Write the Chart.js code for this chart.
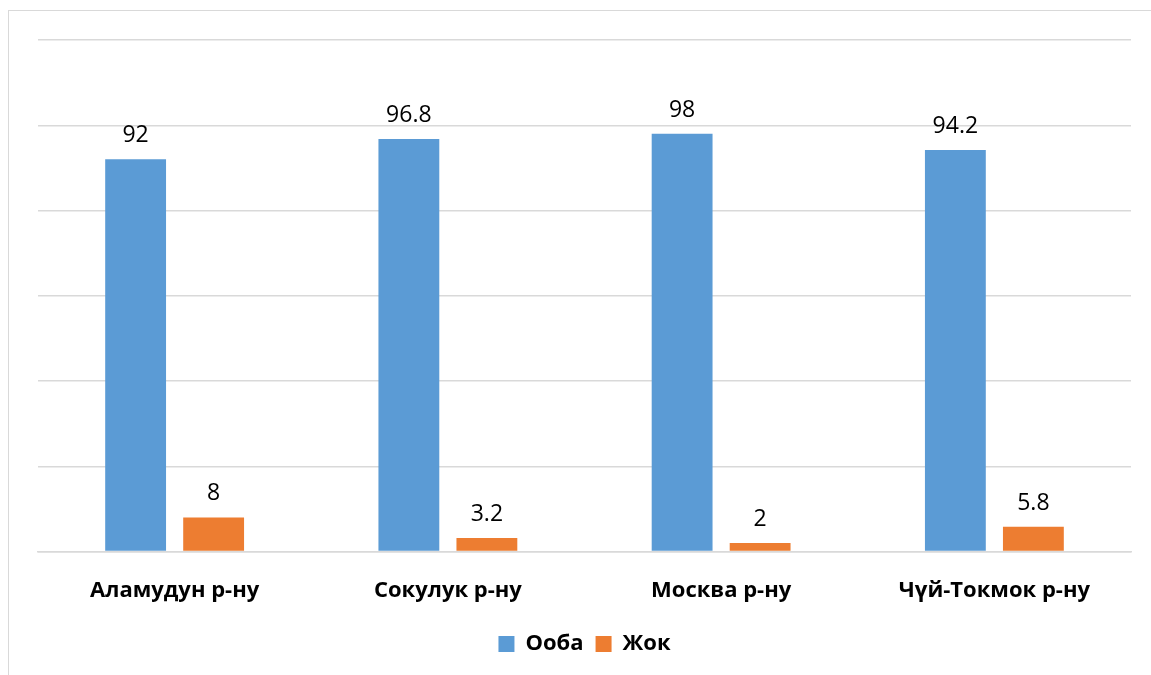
<!DOCTYPE html>
<html>
<head>
<meta charset="utf-8">
<script src="https://cdn.jsdelivr.net/npm/chart.js@4"></script>
<style>
  body { margin: 0; background: #fff; }
  #frame { position: absolute; left: 8px; top: 10px; width: 1160px; height: 700px; border: 1.5px solid #d9d9d9; }
  #wrap { position: absolute; left: 0; top: 0; width: 1151px; height: 675px; }
</style>
</head>
<body>
<div id="frame"></div>
<div id="wrap"><canvas id="myChart"></canvas></div>
<script>
const regions = ["Аламудун р-ну", "Сокулук р-ну", "Москва р-ну", "Чүй-Токмок р-ну"];
const yesValues = [92, 96.8, 98, 94.2];
const noValues = [8, 3.2, 2, 5.8];

// value labels above each bar
const barLabels = {
    id: "barLabels",
    afterDatasetsDraw(chart) {
        const ctx = chart.ctx;
        ctx.save();
        ctx.font = "23px 'Open Sans'";
        ctx.fillStyle = "#000";
        ctx.textAlign = "center";
        ctx.textBaseline = "alphabetic";
        chart.data.datasets.forEach((ds, i) => {
            chart.getDatasetMeta(i).data.forEach((bar, j) => {
                ctx.fillText(String(ds.data[j]), bar.x, bar.y - 17);
            });
        });
        ctx.restore();
    }
};

new Chart("myChart", {
    type: "bar",
    data: {
        labels: regions,
        datasets: [{
            label: "Ооба",
            data: yesValues,
            backgroundColor: "#5B9BD5",
            categoryPercentage: 0.571,
            barPercentage: 0.78
        }, {
            label: "Жок",
            data: noValues,
            backgroundColor: "#ED7D31",
            categoryPercentage: 0.571,
            barPercentage: 0.78
        }]
    },
    options: {
        responsive: true,
        maintainAspectRatio: false,
        animation: false,
        layout: { padding: { left: 38, right: 20, top: 40, bottom: 10 } },
        plugins: {
            legend: {
                position: "bottom",
                labels: {
                    font: { family: "'Open Sans'", size: 22, weight: "bold" },
                    color: "#000",
                    boxWidth: 16,
                    boxHeight: 16,
                    padding: 12
                }
            },
            tooltip: { enabled: false }
        },
        scales: {
            x: {
                grid: { display: false },
                border: { color: "#d9d9d9", width: 1.5 },
                ticks: {
                    color: "#000",
                    padding: 17.5,
                    font: { family: "'Open Sans'", size: 22, weight: "bold" }
                }
            },
            y: {
                min: 0,
                max: 120,
                afterFit(s) { s.width = 0; },
                ticks: { stepSize: 20, display: false },
                border: { display: false },
                grid: { color: "#d9d9d9", lineWidth: 1.5, drawTicks: false }
            }
        }
    },
    plugins: [barLabels]
});
</script>
</body>
</html>
